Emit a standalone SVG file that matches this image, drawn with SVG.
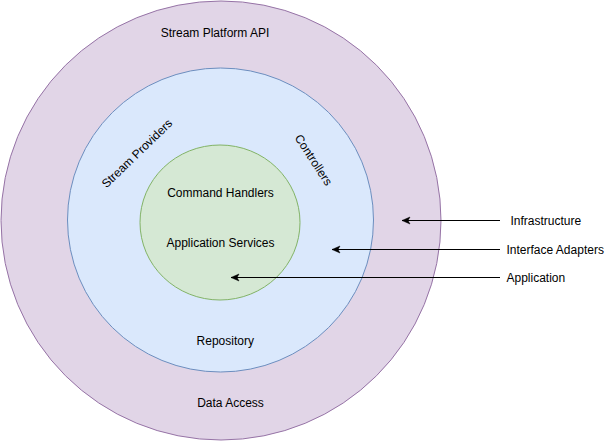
<svg xmlns="http://www.w3.org/2000/svg" width="611" height="441" viewBox="0 0 611 441">
<style>
text{font-family:"Liberation Sans",Arial,Helvetica,sans-serif;font-size:12px;fill:#000}
.c{text-anchor:middle}
.conn{stroke:#000;stroke-width:1;fill:none}
</style>
<defs>
<marker id="arr" markerWidth="10" markerHeight="10" refX="9" refY="5" orient="auto" markerUnits="userSpaceOnUse">
<path d="M9,5 L1,1.5 L3,5 L1,8.5 Z" fill="#000" stroke="#000" stroke-width="0.5"/>
</marker>
</defs>
<rect width="611" height="441" fill="#fff"/>
<g id="infrastructure">
<ellipse cx="221" cy="220.5" rx="220" ry="219.5" fill="#e1d5e7" stroke="#9673a6"/>
<text class="c" x="215" y="37">Stream Platform API</text>
<text class="c" x="230.5" y="407">Data Access</text>
</g>
<g id="interface-adapters">
<ellipse cx="220.5" cy="220" rx="153" ry="152" fill="#dae8fc" stroke="#6c8ebf"/>
<text class="c" x="225.3" y="345">Repository</text>
<text class="c" transform="translate(137,153.5) rotate(-44)" y="4">Stream Providers</text>
<text class="c" transform="translate(313.5,160) rotate(57)" y="4">Controllers</text>
</g>
<g id="application">
<ellipse cx="220" cy="222.5" rx="80" ry="77.5" fill="#d5e8d4" stroke="#82b366"/>
<text class="c" x="220.5" y="197">Command Handlers</text>
<text class="c" x="220.5" y="247">Application Services</text>
</g>
<g id="connectors">
<line class="conn" x1="500" y1="220.5" x2="402" y2="220.5" marker-end="url(#arr)"/>
<line class="conn" x1="500" y1="249.5" x2="332" y2="249.5" marker-end="url(#arr)"/>
<line class="conn" x1="500" y1="277.5" x2="231" y2="277.5" marker-end="url(#arr)"/>
</g>
<g id="labels">
<text x="510.5" y="224.5">Infrastructure</text>
<text x="506.5" y="254">Interface Adapters</text>
<text x="506.5" y="282">Application</text>
</g>
</svg>
